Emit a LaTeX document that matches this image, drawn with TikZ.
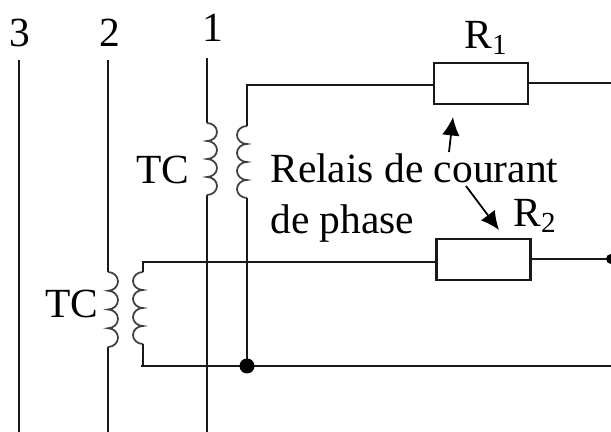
\documentclass[tikz,border=0pt]{standalone}
\usepackage{fontspec}
\setmainfont{Liberation Serif}
\usetikzlibrary{arrows.meta}
\tikzset{
  wire/.style={line width=1.2pt, black!90},
  coilwire/.style={line width=1pt, black!75},
  pointer/.style={line width=1pt, -{Latex[length=10.5pt,width=10pt]}},
  resbox/.style={draw, line width=1.2pt, black!90, fill=white, minimum width=1.88cm, minimum height=0.82cm, inner sep=0pt},
  lbl/.style={font=\fontsize{23.6}{29.5}\selectfont, inner sep=0pt}
}
\newcommand{\coilright}{\foreach \i in {1,...,4} {arc[start angle=90, end angle=-90, x radius=0.2, y radius=0.18]}}
\newcommand{\coilleft}{\foreach \i in {1,...,4} {arc[start angle=90, end angle=270, x radius=0.2, y radius=0.18]}}
\begin{document}
\begin{tikzpicture}
\useasboundingbox (0,0) rectangle (12.22,8.64);

% Phase labels
\node[lbl] (ph3) at (0.40,7.98) {3};
\node[lbl] (ph2) at (2.20,7.98) {2};
\node[lbl] (ph1) at (4.26,8.08) {1};

% Phase lines
\coordinate (l3top) at (0.38,7.44);
\coordinate (l3bot) at (0.38,0);
\coordinate (l2top) at (2.16,7.44);
\coordinate (l2bot) at (2.16,0);
\coordinate (l1top) at (4.14,7.48);
\coordinate (l1bot) at (4.14,0);
\draw[wire] (l3top) -- (l3bot);

% Coil ends
\coordinate (c1a) at (4.14,6.18);
\coordinate (c1b) at (4.14,4.74);
\coordinate (c2a) at (4.94,6.12);
\coordinate (c2b) at (4.94,4.68);
\coordinate (c3a) at (2.16,3.20);
\coordinate (c3b) at (2.16,1.70);
\coordinate (c4a) at (2.86,3.20);
\coordinate (c4b) at (2.86,1.76);

\draw[wire] (l2top) -- (c3a);
\draw[wire] (c3b) -- (l2bot);
\draw[wire] (l1top) -- (c1a);
\draw[wire] (c1b) -- (l1bot);

% Coils
\draw[coilwire] (c1a) \coilright;
\draw[coilwire] (c2a) \coilleft;
\draw[coilwire] (c3a) \foreach \i in {1,...,4} {arc[start angle=90, end angle=-90, x radius=0.2, y radius=0.1875]};
\draw[coilwire] (c4a) \coilleft;

% Resistors
\node[resbox] (r1) at (9.62,6.97) {};
\node[resbox] (r2) at (9.67,3.45) {};
\node[lbl, above=0pt] (r1lbl) at (9.72,7.54) {R\textsubscript{1}};
\node[lbl, above=0pt] (r2lbl) at (10.70,3.98) {R\textsubscript{2}};

% Wires
\coordinate (top1) at (4.94,6.94);
\coordinate (top2) at (2.86,3.40);
\coordinate (bot) at (2.82,1.32);
\coordinate (j1) at (4.94,1.32);
\coordinate (r1out) at (12.22,6.98);
\coordinate (r2out) at (12.22,3.46);
\coordinate (botout) at (12.22,1.32);
\draw[wire] (c2a) -- (top1) -- (top1 -| r1.west);
\draw[wire] (r1.east |- r1out) -- (r1out);
\draw[wire] (c4a) -- (top2) -- (top2 -| r2.west);
\draw[wire] (r2.east |- r2out) -- (r2out);
\draw[wire] (c4a |- c4b) -- (c4a |- bot);
\draw[wire] (bot) -- (botout);
\draw[wire] (c2b) -- (j1);
\fill (j1) circle (0.15);
\fill (r2out) circle (0.1);

% Text and pointers
\node[lbl] (tc1) at (3.26,5.24) {TC};
\node[lbl] (tc2) at (1.44,2.56) {TC};
\node[lbl, align=left, anchor=north west] (relais) at (5.40,5.58) {Relais de courant\\de phase};
\coordinate (p1a) at (8.98,5.60);
\coordinate (p1b) at (9.06,6.30);
\coordinate (p2a) at (9.32,4.92);
\coordinate (p2b) at (9.98,4.04);
\draw[pointer] (p1a) -- (p1b);
\draw[pointer] (p2a) -- (p2b);
\end{tikzpicture}
\end{document}
